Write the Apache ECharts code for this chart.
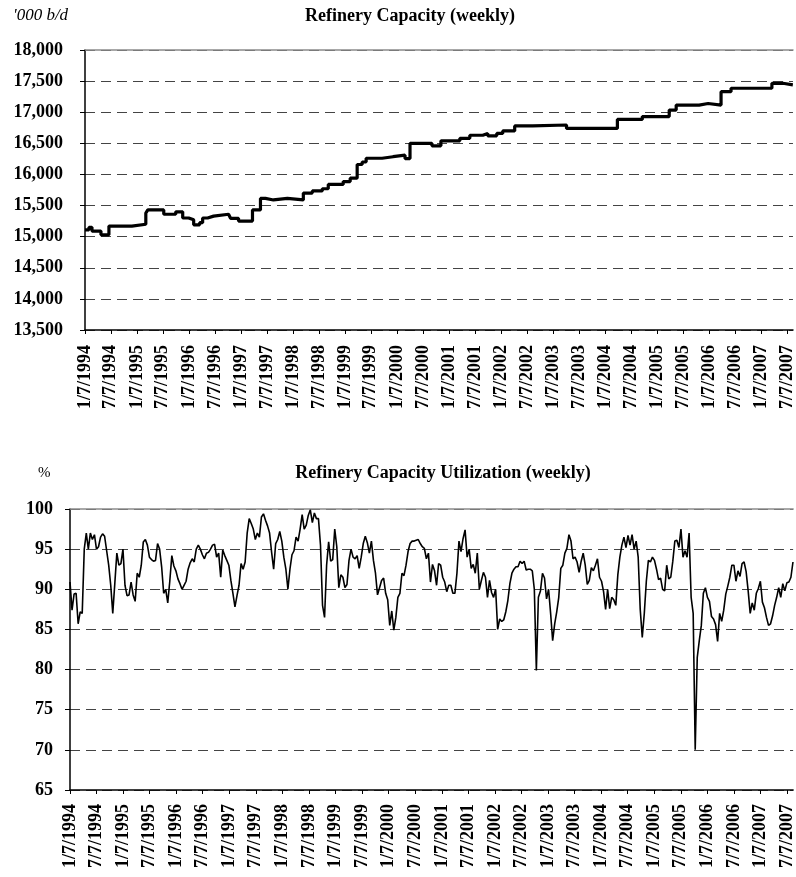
<!DOCTYPE html>
<html>
<head>
<meta charset="utf-8">
<script src="https://cdn.jsdelivr.net/npm/echarts@6/dist/echarts.min.js"></script>
<style>
html,body{margin:0;padding:0;background:#fff;}
#chart{width:796px;height:877px;}
</style>
</head>
<body>
<div id="chart"></div>
<script>
// ---- data ----
const startDate = '1994-01-07';
const endDate = '2007-08-18';
const tickLabels = ['1/7/1994','7/7/1994','1/7/1995','7/7/1995','1/7/1996','7/7/1996','1/7/1997','7/7/1997',
  '1/7/1998','7/7/1998','1/7/1999','7/7/1999','1/7/2000','7/7/2000','1/7/2001','7/7/2001','1/7/2002','7/7/2002',
  '1/7/2003','7/7/2003','1/7/2004','7/7/2004','1/7/2005','7/7/2005','1/7/2006','7/7/2006','1/7/2007','7/7/2007'];

// Refinery capacity ('000 b/d): weeks since 1/7/1994 at which a new level starts, and the level
const capWeek = [0,4,7,16,24,47,61,63,79,91,98,104,109,115,118,123,129,144,146,154,168,176,181,189,203,219,228,238,244,259,266,273,278,282,298,309,321,326,348,357,376,386,399,404,413,419,431,449,483,534,559,586,593,616,625,638,648,689,700,710];
const capValue = [15110,15150,15090,15030,15170,15200,15380,15430,15360,15400,15300,15270,15190,15225,15300,15330,15360,15385,15295,15250,15430,15615,15590,15615,15590,15700,15735,15770,15840,15885,15940,16160,16200,16260,16285,16310,16255,16500,16460,16540,16580,16630,16660,16620,16660,16700,16780,16795,16740,16885,16930,17035,17115,17140,17115,17330,17385,17465,17440,17440];

// Refinery capacity utilization (%), one reading every two weeks from 1/7/1994
const utilStepDays = 14;
const utilValues = [
  90.9,87.4,89.4,89.5,85.7,87.2,87,95,97,95,
  97,96.2,96.8,95,95.3,96.5,96.9,96.6,94.8,93,
  90.5,87,90.7,94.5,93,93.2,95,90.5,89.2,89.3,
  90.9,89.3,88.5,92,91.5,93,95.9,96.2,95.5,94,
  93.7,93.5,93.6,95.7,95,92.8,89.5,90,88.3,91,
  94.2,92.9,92.3,91.3,90.7,90,90.5,91,92.5,93.3,
  93.8,93.4,95,95.5,95,94.3,93.8,94.5,94.6,95,
  95.5,95.6,94,94.5,91.5,94.9,94.2,93.6,93,91.1,
  89.5,87.8,89.2,90.5,93.2,92.5,93.4,97,98.8,98.2,
  97.5,96.2,97,96.5,99,99.4,98.6,97.9,97,94.6,
  92.5,95.7,96.2,97.2,96,94,92.5,90,92.5,94.3,
  94.8,96.5,96,97.5,99.3,97.5,98,99.2,99.9,98.3,
  99.5,98.8,98.8,95.5,88,86.5,93,95.9,93.5,93.7,
  97.5,95.3,90.2,91.8,91.5,90.2,90.6,93.6,95,94,
  93.8,94.2,92.6,94,95.7,96.6,95.8,94.5,96,93.6,
  92,89.3,90.2,91.1,91.4,89.5,88.7,85.5,87.3,84.9,
  86.5,89,89.5,92,91.7,93,94.7,95.7,96,96,
  96.1,96.2,95.7,95.3,95.1,93.8,94.5,90.9,
  93.1,92.3,90.5,93.2,93,91.5,90.9,89.7,90.5,90.5,
  89.5,89.5,92,96,94.7,96.3,97.4,94,95,92.6,
  93.1,92,94.5,90,91.1,92.1,91.5,89,91.1,89.6,
  89,90,85,86.3,86,86.2,87.2,88.6,90.7,92,
  92.5,92.8,92.8,93.5,93.2,93.5,92.4,92.5,92.5,92.3,
  90,79.9,89,89.8,92,91.4,88.8,90,87,83.6,
  85.7,87.2,89,92.6,93,94.5,95.1,96.8,96,93.8,
  94,93.4,92.1,93.5,94.5,93,90.6,91.1,92.7,92.3,
  93,93.8,91.5,91,89.7,87.5,90,87.6,
  89,88.7,88,91.8,94,95.5,96.5,95.2,96.7,95.5,
  96.8,95,96,94,87.5,84,87,91,93.6,93.4,
  94,93.6,92.5,91.2,91.4,90,89.8,93,91.3,91.5,
  93.5,96,96.1,95.2,97.5,94,94.8,94,97,89,
  87,70,81.5,83.6,85.5,89.5,90.2,89,88.5,86.6,
  86.3,85.6,83.5,87,86,87.4,89.4,90.4,91.5,93,
  93,91,92.3,91.6,93.2,93.4,92.2,89.8,87,88.3,
  87.4,89.5,90.1,91,88.4,87.7,86.5,85.5,85.7,86.7,
  88,89,90.2,89,90.7,89.8,90.8,90.9,91.5,93.4
];

// ---- build ----
const DAY = 86400000;
function parseISO(s){ const p = s.split('-').map(Number); return Date.UTC(p[0], p[1]-1, p[2]); }
function parseMDY(s){ const p = s.split('/').map(Number); return Date.UTC(p[2], p[0]-1, p[1]); }
const t0 = parseISO(startDate);
const tMax = parseISO(endDate);
const tickTimes = tickLabels.map(parseMDY);
const capData = capWeek.map((w, i) => [t0 + w * 7 * DAY, capValue[i]]);
const utilData = utilValues.map((v, i) => [t0 + i * utilStepDays * DAY, v]);

const SERIF = '"Liberation Serif","Times New Roman",serif';
const labelFmt = function (v) {
  let best = -1, bd = Infinity;
  for (let i = 0; i < tickTimes.length; i++) { const d = Math.abs(tickTimes[i] - v); if (d < bd) { bd = d; best = i; } }
  return bd < DAY ? tickLabels[best] : '';
};
function bottomX(grid, margin){
  return {
    type: 'value', gridIndex: grid, min: t0, max: tMax, position: 'bottom', scale: true,
    axisLine: { show: true, onZero: false, lineStyle: { color: '#000', width: 1.5 } },
    axisTick: { show: true, length: 4, customValues: tickTimes, lineStyle: { color: '#000', width: 1 } },
    axisLabel: { show: true, customValues: tickTimes, rotate: 90, margin: margin, formatter: labelFmt,
      color: '#000', fontFamily: SERIF, fontWeight: 'bold', fontSize: 18, hideOverlap: false,
      showMinLabel: true, showMaxLabel: true },
    splitLine: { show: false }
  };
}
function topX(grid){
  return {
    type: 'value', gridIndex: grid, min: t0, max: tMax, position: 'top', scale: true,
    axisLine: { show: true, onZero: false, lineStyle: { color: '#8c8c8c', width: 1.5 } },
    axisTick: { show: false }, axisLabel: { show: false }, splitLine: { show: false }
  };
}
function yAx(grid, min, max, interval, margin){
  return {
    type: 'value', gridIndex: grid, min: min, max: max, interval: interval,
    axisLine: { show: true, onZero: false, lineStyle: { color: '#000', width: 1.5 } },
    axisTick: { show: true, length: 5, lineStyle: { color: '#000', width: 1 } },
    axisLabel: { color: '#000', fontFamily: SERIF, fontWeight: 'bold', fontSize: 18, margin: margin },
    splitLine: { show: true, lineStyle: { color: '#444', width: 1, type: [10, 6] } }
  };
}

const chart = echarts.init(document.getElementById('chart'), null, { renderer: 'canvas' });
chart.setOption({
  animation: false,
  backgroundColor: '#fff',
  grid: [
    { left: 85, top: 50, right: 0, height: 280 },
    { left: 70, top: 509, right: 0, height: 281 }
  ],
  xAxis: [ bottomX(0, 15), topX(0), bottomX(1, 14), topX(1) ],
  yAxis: [ yAx(0, 13500, 18000, 500, 22), yAx(1, 65, 100, 5, 17) ],
  graphic: [
    { type: 'text', style: { x: 13, y: 16, text: "'000 b/d", font: 'italic 17px ' + SERIF, fill: '#000', textVerticalAlign: 'middle' } },
    { type: 'text', style: { x: 410, y: 16, text: 'Refinery Capacity (weekly)', font: 'bold 18px ' + SERIF, fill: '#000', textAlign: 'center', textVerticalAlign: 'middle' } },
    { type: 'text', style: { x: 38, y: 473, text: '%', font: '15px ' + SERIF, fill: '#000', textVerticalAlign: 'middle' } },
    { type: 'text', style: { x: 443, y: 473, text: 'Refinery Capacity Utilization (weekly)', font: 'bold 18px ' + SERIF, fill: '#000', textAlign: 'center', textVerticalAlign: 'middle' } }
  ],
  series: [
    { type: 'line', xAxisIndex: 0, yAxisIndex: 0, data: capData, step: 'end', showSymbol: false, symbol: 'none',
      lineStyle: { color: '#000', width: 3.2 }, z: 5 },
    { type: 'line', xAxisIndex: 2, yAxisIndex: 1, data: utilData, showSymbol: false, symbol: 'none',
      lineStyle: { color: '#000', width: 1.6 }, z: 5 }
  ]
});
</script>
</body>
</html>
